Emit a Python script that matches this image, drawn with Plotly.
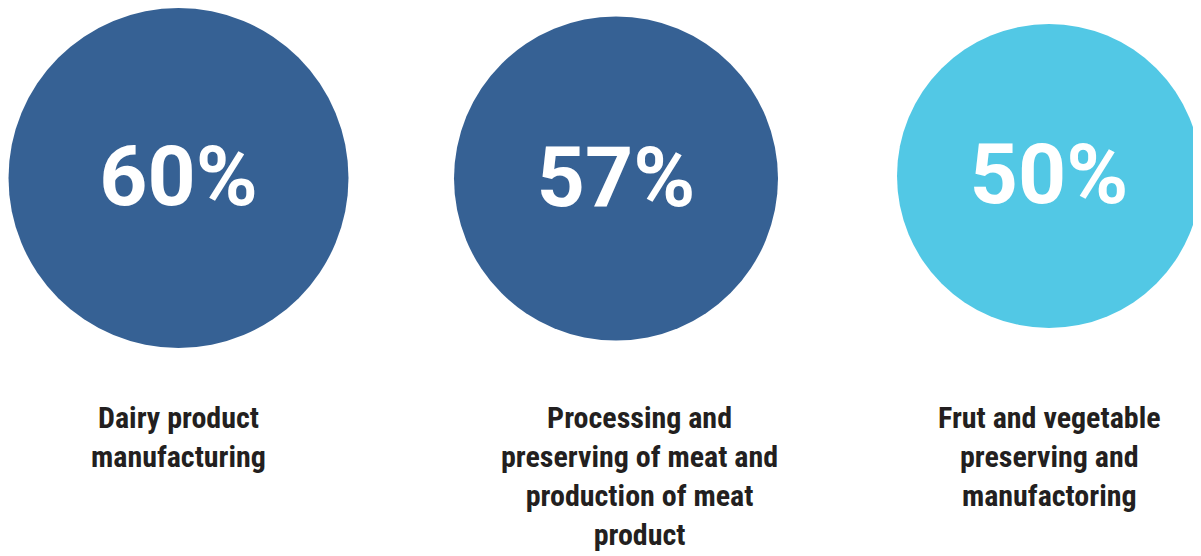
import plotly.graph_objects as go

# Data
categories = [
    "Dairy product<br>manufacturing",
    "Processing and<br>preserving of meat and<br>production of meat<br>product",
    "Frut and vegetable<br>preserving and<br>manufactoring",
]
values = [60, 57, 50]
value_labels = [f"{v}%" for v in values]

# Style / layout (pixel-like coordinates)
centers_x = [178.5, 616, 1049]
centers_y = [178, 178.5, 176]
diameters = [340, 324, 304]
colors = ["#366194", "#366194", "#52C8E5"]
text_dy = 6
label_x = [178.5, 639, 1049]
label_top = 398
OFF = 8  # page body margin
W, H = 1201, 556

fig = go.Figure()
fig.add_trace(go.Scatter(
    x=centers_x, y=centers_y,
    mode="markers",
    marker=dict(size=diameters, color=colors, line=dict(width=0), opacity=1),
    cliponaxis=False,
    hoverinfo="skip",
    showlegend=False,
))
fig.add_trace(go.Scatter(
    x=centers_x, y=[c + text_dy for c in centers_y],
    mode="text",
    text=value_labels,
    textposition="middle center",
    textfont=dict(family="Roboto, Arial, sans-serif", size=84, color="white", weight="bold"),
    cliponaxis=False,
    hoverinfo="skip",
    showlegend=False,
))

for lx, cat in zip(label_x, categories):
    fig.add_annotation(
        x=lx, y=label_top, xref="x", yref="y",
        text=cat, showarrow=False,
        xanchor="center", yanchor="top", align="center",
        font=dict(family="Liberation Sans Narrow, Roboto Condensed, DejaVu Sans Condensed, Arial Narrow, sans-serif",
                  size=30, color="#231F20", weight="bold"),
    )

fig.update_layout(
    width=W - OFF, height=H - OFF,
    margin=dict(l=0, r=0, t=0, b=0),
    paper_bgcolor="white", plot_bgcolor="white",
    xaxis=dict(range=[OFF, W], visible=False, fixedrange=True),
    yaxis=dict(range=[H, OFF], visible=False, fixedrange=True),
)

fig.write_html("out.html")
